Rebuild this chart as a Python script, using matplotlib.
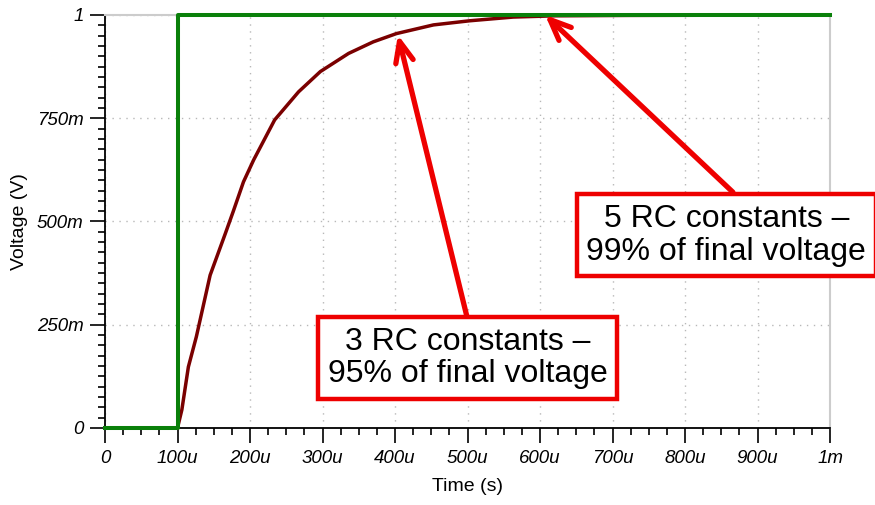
import matplotlib
matplotlib.use("Agg")
import matplotlib.pyplot as plt
import numpy as np

plt.rcParams['font.family'] = ['Liberation Sans', 'DejaVu Sans']

# step input (time in us, volts)
step_t = [0, 100, 100, 1000]
step_v = [0, 0, 1, 1]

# capacitor voltage
cap_t = [100, 106, 115, 126, 145, 166, 177, 191, 205, 234, 267, 297, 336, 370,
         402, 453, 503, 563, 620, 720, 1000]
cap_v = [0.0, 0.044, 0.148, 0.221, 0.370, 0.471, 0.525, 0.596, 0.649, 0.746,
         0.814, 0.863, 0.907, 0.935, 0.955, 0.976, 0.986, 0.995, 0.998, 0.999, 1.0]

xticks = [0, 100, 200, 300, 400, 500, 600, 700, 800, 900, 1000]
xlabels = ['0', '100u', '200u', '300u', '400u', '500u', '600u', '700u', '800u', '900u', '1m']
yticks = [0, 0.25, 0.5, 0.75, 1.0]
ylabels = ['0', '250m', '500m', '750m', '1']

fig = plt.figure(figsize=(8.75, 5.05), dpi=100)
ax = fig.add_axes([0.12, 0.1525, 0.8286, 0.8178])

ax.plot(cap_t, cap_v, color='#7a0000', lw=2.5, zorder=3, clip_on=False)
ax.plot(step_t, step_v, color='#0a800a', lw=2.9, zorder=4, clip_on=False)

ax.set_xlim(0, 1000)
ax.set_ylim(0, 1)
ax.set_xticks(xticks)
ax.set_xticklabels(xlabels, fontstyle='italic', fontsize=13.5)
ax.set_yticks(yticks)
ax.set_yticklabels(ylabels, fontstyle='italic', fontsize=13.5)
ax.set_xticks(np.arange(0, 1001, 25), minor=True)
ax.set_yticks(np.arange(0, 1.001, 0.025), minor=True)
ax.tick_params(which='major', direction='out', length=10.5, width=1.2, pad=5)
ax.tick_params(which='minor', direction='out', length=5, width=1.2)

ax.grid(True, which='major', color='#b8b8b8', lw=1, linestyle=(0, (1, 4)))
for s in ['left', 'bottom']:
    ax.spines[s].set_color('black')
    ax.spines[s].set_linewidth(1.3)
for s in ['top', 'right']:
    ax.spines[s].set_color('#cccccc')
    ax.spines[s].set_linewidth(1.5)

ax.set_xlabel('Time (s)', fontsize=14, labelpad=8)
ax.set_ylabel('Voltage (V)', fontsize=14, labelpad=6)

box = dict(boxstyle='square,pad=0.3', fc='white', ec='#ee0000', lw=3.2)
ax.text(500, 0.1695, '3 RC constants \u2013\n95% of final voltage', fontsize=23,
        ha='center', va='center', bbox=box, zorder=6, linespacing=1.12)
ax.text(857, 0.467, '5 RC constants \u2013\n99% of final voltage', fontsize=23,
        ha='center', va='center', bbox=box, zorder=6, linespacing=1.12, clip_on=False)

arrow = dict(arrowstyle='->,head_length=0.75,head_width=0.32', color='#ee0000', lw=3.8,
             mutation_scale=20, shrinkA=0, shrinkB=0)
ax.annotate('', xy=(404, 0.952), xytext=(499, 0.271), arrowprops=arrow, zorder=5)
ax.annotate('', xy=(607, 1.0), xytext=(866, 0.571), arrowprops=arrow, zorder=5,
            annotation_clip=False)

fig.savefig('out.png', dpi=100)
